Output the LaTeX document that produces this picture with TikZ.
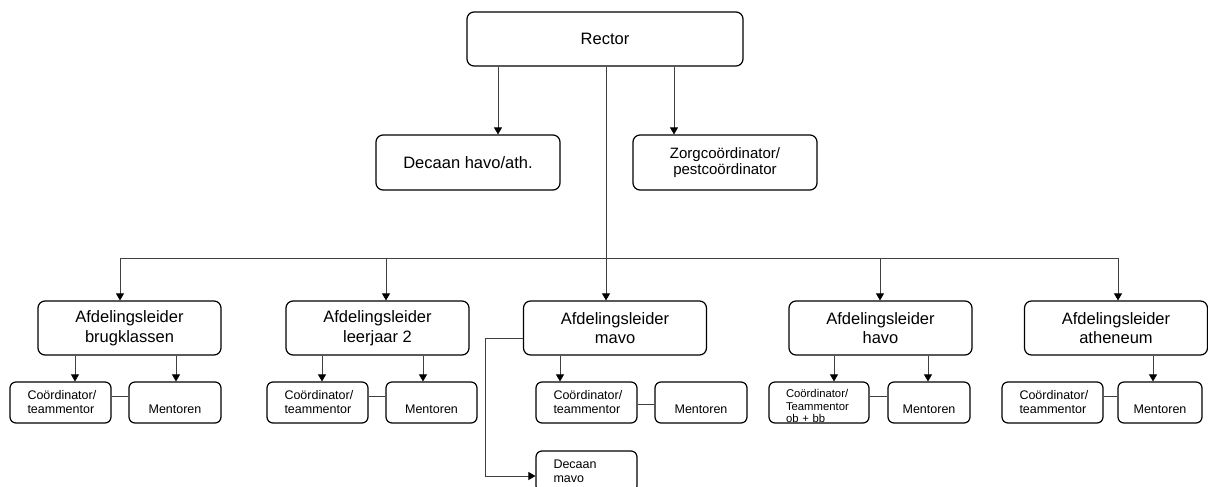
\documentclass[tikz,border=0pt]{standalone}
\usepackage{fontspec}
\setmainfont{Liberation Sans}
\usetikzlibrary{positioning}
\usetikzlibrary{arrows.meta}

\tikzset{
  box/.style={draw, line width=1.2pt, rounded corners=7pt, align=center, inner sep=0pt,
              font=\fontsize{16.5}{19.5}\selectfont},
  afd/.style={box, minimum width=183pt, minimum height=54pt},
  sub/.style={box, rounded corners=6pt, minimum height=41pt, font=\fontsize{12.5}{14}\selectfont},
  coord/.style={sub, minimum width=101pt, text width=66pt, align=left},
  mentor/.style={sub, minimum width=92pt, text height=21pt, text depth=0pt},
  arr/.style={-{Triangle[length=7pt,width=8pt,color=black]}, line width=0.7pt, draw=black!75},
  link/.style={line width=0.7pt, draw=black!75}
}

\begin{document}
\begin{tikzpicture}[x=1pt, y=-1pt]
  \useasboundingbox (0,0) rectangle (1208,487);

  \node (rector) [box, minimum width=276pt, minimum height=54pt] at (605,39) {Rector};
  \node (hvdec) [box, minimum width=184pt, minimum height=55pt] at (468,162.5) {Decaan havo/ath.};
  \node (zorg) [box, minimum width=184pt, minimum height=55pt,
                font=\fontsize{15}{16.5}\selectfont] at (725,162.5)
        {Zorgcoördinator/\\pestcoördinator};

  \node (brug) [afd] at (129.5,328) {Afdelingsleider\\brugklassen};
  \node (lj2)  [afd] at (377.5,328) {Afdelingsleider\\leerjaar 2};
  \node (mavo) [afd] at (615,328)   {Afdelingsleider\\mavo};
  \node (havo) [afd] at (880.5,328) {Afdelingsleider\\havo};
  \node (ath)  [afd] at (1116,328)  {Afdelingsleider\\atheneum};

  \node (brugC) [coord] at (60.5,402.5)  {Coördinator/\\teammentor};
  \node (brugM) [mentor] at (175,402.5)  {Mentoren};
  \node (lj2C)  [coord] at (317.5,402.5) {Coördinator/\\teammentor};
  \node (lj2M)  [mentor, minimum width=91pt] at (431.5,402.5) {Mentoren};
  \node (mavoC) [coord] at (586.5,402.5) {Coördinator/\\teammentor};
  \node (mavoM) [mentor] at (701,402.5)  {Mentoren};
  \node (mavoDec) [coord] at (586.5,471.5) {Decaan\\mavo};
  \node (havoC) [coord, minimum width=100pt, font=\fontsize{11.3}{12.5}\selectfont]
        at (819,402.5) {\rule{0pt}{15.5pt}Coördinator/\\Teammentor\\ob + bb};
  \node (havoM) [mentor, minimum width=82pt] at (929,402.5) {Mentoren};
  \node (athC)  [coord] at (1052.5,402.5) {Coördinator/\\teammentor};
  \node (athM)  [mentor, minimum width=84pt] at (1160,402.5) {Mentoren};

  \coordinate (bus) at (606,258);
  \coordinate (d1) at (120,258);
  \coordinate (d2) at (386,258);
  \coordinate (d4) at (880,258);
  \coordinate (d5) at (1118,258);
  \coordinate (mvbend) at (485,476);

  % rector
  \draw[arr] ([xshift=30]hvdec.north |- rector.south) -- ([xshift=30]hvdec.north);
  \draw[arr] ([xshift=-51]zorg.north |- rector.south) -- ([xshift=-51]zorg.north);
  \draw[link] (rector.south -| bus) -- (bus);
  \draw[link] (d1) -- (d5);

  % afdelingen
  \draw[arr] (d1) -- (d1 |- brug.north);
  \draw[arr] (d2) -- (d2 |- lj2.north);
  \draw[arr] (bus) -- (bus |- mavo.north);
  \draw[arr] (d4) -- (d4 |- havo.north);
  \draw[arr] (d5) -- (d5 |- ath.north);

  % coordinatoren en mentoren
  \draw[arr] ([xshift=14.5]brugC.north |- brug.south) -- ([xshift=14.5]brugC.north);
  \draw[arr] ([xshift=1]brugM.north |- brug.south) -- ([xshift=1]brugM.north);
  \draw[arr] ([xshift=4.5]lj2C.north |- lj2.south) -- ([xshift=4.5]lj2C.north);
  \draw[arr] ([xshift=-8.5]lj2M.north |- lj2.south) -- ([xshift=-8.5]lj2M.north);
  \draw[arr] ([xshift=-26.5]mavoC.north |- mavo.south) -- ([xshift=-26.5]mavoC.north);
  \draw[arr] ([xshift=15]havoC.north |- havo.south) -- ([xshift=15]havoC.north);
  \draw[arr] ([xshift=-1]havoM.north |- havo.south) -- ([xshift=-1]havoM.north);
  \draw[arr] ([xshift=-7]athM.north |- ath.south) -- ([xshift=-7]athM.north);
  \draw[arr] ([yshift=-10]mavo.west) -| (mvbend) -- (mvbend -| mavoDec.west);

  \draw[link] ([yshift=6.5]brugC.east) -- ([yshift=6.5]brugM.west);
  \draw[link] ([yshift=6.5]lj2C.east) -- ([yshift=6.5]lj2M.west);
  \draw[link] ([yshift=-1.5]mavoC.east) -- ([yshift=-1.5]mavoM.west);
  \draw[link] ([yshift=6.5]havoC.east) -- ([yshift=6.5]havoM.west);
  \draw[link] ([yshift=6.5]athC.east) -- ([yshift=6.5]athM.west);
\end{tikzpicture}
\end{document}
